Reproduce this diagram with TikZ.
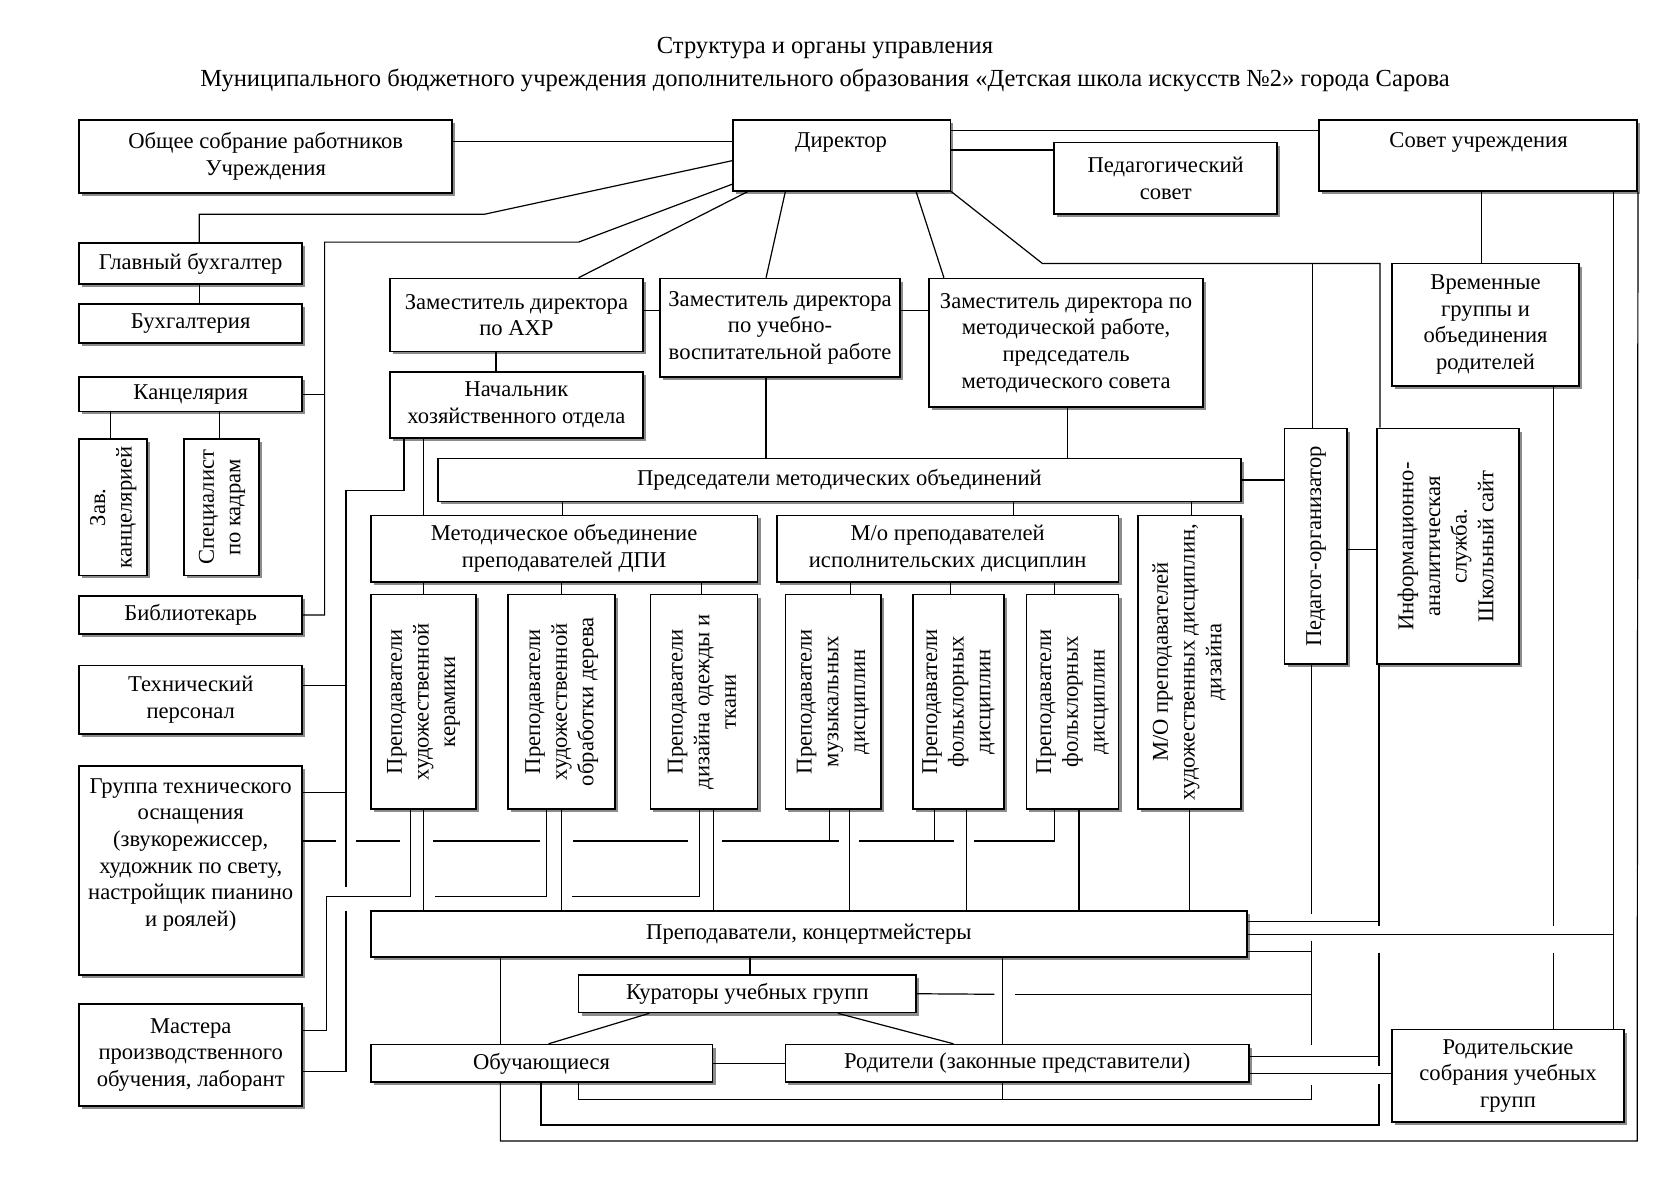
\documentclass[tikz,border=0pt]{standalone}
\usepackage{fontspec}
\setmainfont{Liberation Serif}
\usepackage{graphicx}
\usetikzlibrary{shadows}
\newlength{\unitpx}
\setlength{\unitpx}{0.025cm}
% box from its corners (x1,y1) (x2,y2) in pixel units
\newcommand{\orgbox}[7][]{%
  \node[orgbox, minimum width={(#5-#3)*\unitpx}, minimum height={(#6-#4)*\unitpx}, #1]
    (#2) at ({(#3+#5)/2},{(#4+#6)/2}) {#7};}
\newcommand{\vtext}[1]{\rotatebox{90}{\begin{tabular}{@{}c@{}}#1\end{tabular}}}
\tikzset{
  orgbox/.style={draw, line width=1.1pt, fill=white, inner sep=2pt, align=center,
    drop shadow={shadow xshift=2pt, shadow yshift=-2pt, fill=black!45, opacity=1}},
  link/.style={line width=0.8pt},
}

\begin{document}
\begin{tikzpicture}[x=0.025cm, y=-0.025cm, font=\fontsize{15}{17.7}\selectfont]
    \useasboundingbox (0,0) rectangle (1568,1108);

    \node[font=\fontsize{16.3}{19}\selectfont] (title1) at (770,45) {Структура и органы управления};
    \node[font=\fontsize{16.3}{19}\selectfont] (title2) at (770,75) {Муниципального бюджетного учреждения дополнительного образования «Детская школа искусств №2» города Сарова};

    % top row
    \orgbox{obsh}{74}{112}{422}{180}{Общее собрание работников\\Учреждения}
    \orgbox{dir}{684}{112}{887}{178}{}
    \node (dir-t) at (785,133) {Директор};
    \orgbox{pedsov}{984}{133}{1192}{200}{Педагогический\\совет}
    \orgbox{sovet}{1231}{112}{1528}{178}{}
    \node (sovet-t) at (1380,133) {Совет учреждения};

    % left column
    \orgbox{glbuh}{74}{227}{282}{265}{Главный бухгалтер}
    \orgbox{buh}{74}{284}{282}{320}{Бухгалтерия}
    \orgbox{kanc}{74}{352}{282}{384}{Канцелярия}
    \orgbox{zavk}{74}{410}{137}{537}{\vtext{Зав.\\канцелярией}}
    \orgbox{spec}{172}{410}{242}{537}{\vtext{Специалист\\по кадрам}}
    \orgbox{bibl}{74}{556}{282}{592}{Библиотекарь}
    \orgbox{tehper}{74}{621}{282}{685}{Технический\\персонал}
    \orgbox{tehgr}{74}{715}{282}{910}{}
    \node[align=center] (tehgr-t) at (178,798) {Группа технического\\оснащения\\(звукорежиссер,\\художник по свету,\\настройщик пианино\\и роялей)};
    \orgbox{mastera}{74}{937}{282}{1032}{Мастера\\производственного\\обучения, лаборант}

    % deputies
    \orgbox{zamahr}{364}{260}{600}{328}{Заместитель директора\\по АХР}
    \orgbox{zamuvr}{616}{260}{840}{352}{Заместитель директора\\по учебно-\\воспитательной работе}
    \orgbox{zammr}{867}{260}{1123}{380}{Заместитель директора по\\методической работе,\\председатель\\методического совета}
    \orgbox{nachhoz}{364}{347}{600}{409}{Начальник\\хозяйственного отдела}
    \orgbox{vremgr}{1299}{246}{1474}{360}{Временные\\группы и\\объединения\\родителей}

    % methodical unions
    \orgbox{predmo}{409}{428}{1158}{468}{Председатели методических объединений}
    \orgbox{modpi}{346}{481}{707}{543}{Методическое объединение\\преподавателей ДПИ}
    \orgbox{moisp}{725}{481}{1044}{543}{М/о преподавателей\\исполнительских дисциплин}
    \orgbox{mohud}{1062}{481}{1158}{755}{\vtext{М/О преподавателей\\художественных дисциплин,\\дизайна}}
    \orgbox{pedorg}{1199}{400}{1257}{620}{\vtext{Педагог-организатор}}
    \orgbox{infosl}{1285}{400}{1418}{620}{\vtext{Информационно-\\аналитическая\\служба.\\Школьный сайт}}

    \orgbox{preker}{346}{555}{444}{755}{\vtext{Преподаватели\\художественной\\керамики}}
    \orgbox{preder}{474}{555}{574}{755}{\vtext{Преподаватели\\художественной\\обработки дерева}}
    \orgbox{preod}{607}{555}{707}{755}{\vtext{Преподаватели\\дизайна одежды и\\ткани}}
    \orgbox{premuz}{733}{555}{822}{755}{\vtext{Преподаватели\\музыкальных\\дисциплин}}
    \orgbox{prefol1}{852}{555}{937}{755}{\vtext{Преподаватели\\фольклорных\\дисциплин}}
    \orgbox{prefol2}{958}{555}{1044}{755}{\vtext{Преподаватели\\фольклорных\\дисциплин}}

    % bottom
    \orgbox{prepkon}{346}{850}{1164}{893}{Преподаватели, концертмейстеры}
    \orgbox{kurat}{540}{910}{855}{945}{Кураторы учебных групп}
    \orgbox{obuch}{346}{975}{665}{1010}{Обучающиеся}
    \orgbox{rodit}{733}{975}{1166}{1010}{Родители (законные представители)}
    \orgbox{rodsob}{1299}{961}{1516}{1047}{Родительские\\собрания учебных\\групп}

    % from the director
    \draw[link] (obsh.east |- 0,132) -- (dir.west |- 0,132);
    \draw[link] (dir.west |- 0,150) -- (452,200) -| (glbuh.north -| 186,0);
    \draw[link] (dir.west |- 0,172) -- (540,226) -- (303,226) |- (bibl.east);
    \draw[link] (kanc.east) -- (kanc.east -| 303,0);
    \draw[link] (dir.south -| 698,0) -- (zamahr.north -| 540,0);
    \draw[link] (dir.south -| 733,0) -- (zamuvr.north -| 715,0);
    \draw[link] (dir.south -| 855,0) -- (zammr.north -| 881,0);
    \draw[link] (dir.south east) -- (973,246) -| (infosl.north -| 1288,0);
    \draw[link] (pedorg.north -| 1225,0) -- (1225,246);
    \draw[link] (dir.east |- 0,122) -- (sovet.west |- 0,122);
    \draw[link] (dir.east |- 0,140) -- (pedsov.west |- 0,140);

    \draw[link] (glbuh.south -| 186,0) -- (buh.north -| 186,0);
    \draw[link] (kanc.south -| 103,0) -- (zavk.north -| 103,0);
    \draw[link] (kanc.south -| 205,0) -- (spec.north -| 205,0);
    \draw[link] (zamahr.south -| 463,0) -- (nachhoz.north -| 463,0);
    \draw[link] (zamahr.east |- 0,290) -- (zamuvr.west |- 0,290);
    \draw[link] (zamuvr.east |- 0,290) -- (zammr.west |- 0,290);
    \draw[link] (zamuvr.south -| 715,0) -- (predmo.north -| 715,0);
    \draw[link] (zammr.south -| 996,0) -- (predmo.north -| 996,0);
    \draw[link] (sovet.south -| 1383,0) -- (vremgr.north -| 1383,0);
    \draw[link] (predmo.east) -- (predmo.east -| pedorg.west);
    \draw[link] (pedorg.east |- 0,513) -- (infosl.west |- 0,513);
    \draw[link] (predmo.south -| 525,0) -- (modpi.north -| 525,0);
    \draw[link] (predmo.south -| 946,0) -- (moisp.north -| 946,0);
    \draw[link] (predmo.south -| 1112,0) -- (mohud.north -| 1112,0);

    % left bus lines
    \draw[link] (nachhoz.south -| 395,0) -- (modpi.north -| 395,0);
    \draw[link] (nachhoz.south -| 377,0) -- (377,458) -- (323,458) -- (323,828);
    \draw[link] (323,850) |- (mastera.east |- 0,1000);
    \draw[link] (tehper.east |- 0,640) -- (323,640);
    \draw[link] (tehgr.east |- 0,740) -- (323,740);

    \foreach \n/\x in {preker/395, preder/524, preod/655}
        \draw[link] (modpi.south -| \x,0) -- (\n.north -| \x,0);
    \foreach \n/\x in {premuz/794, prefol1/887, prefol2/984}
        \draw[link] (moisp.south -| \x,0) -- (\n.north -| \x,0);
    \foreach \n/\x in {preker/395, preder/524, preod/666, premuz/793, prefol1/902, prefol2/1007, mohud/1110}
        \draw[link] (\n.south -| \x,0) -- (prepkon.north -| \x,0);

    % lines with breaks under the teachers
    \draw[link] (preker.south -| 383,0) |- (305,837) |- (mastera.east |- 0,962);
    \draw[link] (preder.south -| 510,0) -- (510,837) -- (406,837);
    \draw[link] (preod.south -| 653,0) |- (534,837);
    \draw[link] (premuz.south -| 774,0) -- (774,785);
    \draw[link] (prefol1.south -| 872,0) -- (872,785);
    \draw[link] (prefol2.south -| 984,0) |- (909,785);
    \draw[link] (tehgr.east |- 0,785) -- (314,785);
    \foreach \a/\b in {332/373, 404/504, 535/642, 674/783, 802/890}
        \draw[link] (\a,785) -- (\b,785);

    % right side
    \draw[link] (infosl.south -| 1287,0) -- (1287,864);
    \draw[link] (prepkon.east |- 0,860) -- (1287,860);
    \draw[link] (prepkon.east |- 0,872) -- (1506,872);
    \draw[link] (prepkon.east |- 0,888) -- (1224,888);
    \draw[link] (pedorg.south -| 1224,0) -- (1224,853);
    \draw[link] (1224,878) -- (1224,975);
    \draw[link] (1224,1013) |- (540,1026) -- (obuch.south -| 540,0);
    \draw[link] (1287,889) -- (1287,995);
    \draw[link] (1287,1012) |- (505,1050) -- (obuch.south -| 505,0);
    \draw[link] (rodit.east |- 0,986) -- (1287,986);
    \draw[link] (rodit.east |- 0,1002) -- (rodsob.west |- 0,1002);
    \draw[link] (sovet.south -| 1506,0) -- (rodsob.north -| 1506,0);
    \draw[link] (vremgr.south -| 1450,0) -- (1450,864);
    \draw[link] (1450,889) -- (rodsob.north -| 1450,0);
    \draw[link] (sovet.south east) -- (1528,1065) -| (obuch.south -| 467,0);
    \draw[link] (obuch.north -| 467,0) -- (prepkon.south -| 467,0);

    % students and parents
    \draw[link] (prepkon.south -| 700,0) -- (kurat.north -| 700,0);
    \draw[link] (prepkon.south -| 936,0) -- (rodit.north -| 936,0);
    \draw[link] (rodit.south -| 936,0) -- (936,1026);
    \draw[link] (kurat.east) -- (928,928);
    \draw[link] (947,928) -- (1224,928);
    \draw[link] (kurat.south -| 606,0) -- (obuch.north -| 512,0);
    \draw[link] (kurat.south -| 782,0) -- (rodit.north -| 890,0);
    \draw[link] (obuch.east) -- (rodit.west);
\end{tikzpicture}
\end{document}
